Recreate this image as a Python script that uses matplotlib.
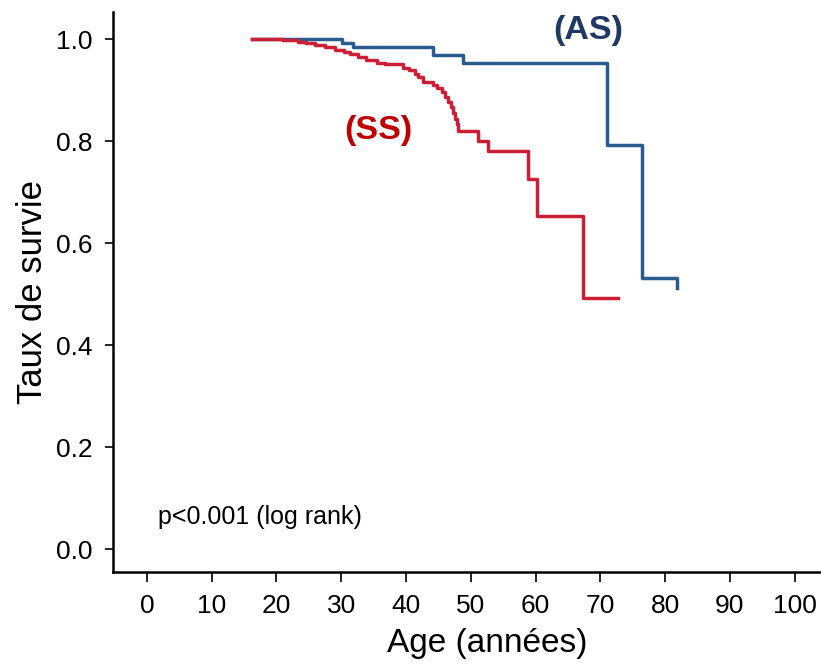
"""Kaplan-Meier style survival curves, AS vs SS."""
import matplotlib
matplotlib.use("Agg")
import matplotlib.pyplot as plt

BLUE = "#2a5b8f"
RED = "#cc1f36"
AS_TEXT = "#1f3864"
SS_TEXT = "#c00000"

# AS group: age at step, survival after step
as_age = [16.2, 30.1, 31.8, 44.1, 48.8, 71.1, 76.5, 81.8]
as_surv = [1.000, 0.993, 0.984, 0.969, 0.953, 0.792, 0.531, 0.512]

# SS group: age at step, survival after step (last point = end of follow-up)
ss_age = [16.2, 21.0, 23.3, 24.5, 25.9, 27.5, 29.0, 30.4, 31.3, 32.6, 33.8,
          35.5, 36.7, 39.5, 40.4, 41.4, 41.8, 42.6, 44.1, 44.8, 45.5, 46.0,
          46.5, 46.9, 47.2, 47.5, 47.8, 48.1, 51.1, 52.6, 58.8, 60.3, 67.3, 72.7]
ss_surv = [1.000, 0.998, 0.995, 0.992, 0.988, 0.984, 0.979, 0.975, 0.970, 0.965, 0.959,
           0.954, 0.951, 0.944, 0.939, 0.932, 0.925, 0.916, 0.910, 0.904, 0.896, 0.886,
           0.876, 0.867, 0.855, 0.843, 0.833, 0.820, 0.800, 0.780, 0.725, 0.653, 0.492, 0.492]

x_ticks = list(range(0, 101, 10))
y_ticks = [0.0, 0.2, 0.4, 0.6, 0.8, 1.0]

plt.rcParams["font.family"] = ["Liberation Sans", "DejaVu Sans"]

fig = plt.figure(figsize=(8.21, 6.71), dpi=100)
ax = fig.add_axes([0.1376, 0.1475, 0.861, 0.8345])

ax.step(as_age, as_surv, where="post", color=BLUE, linewidth=2.5)
ax.step(ss_age, ss_surv, where="post", color=RED, linewidth=2.5)

ax.text(68.1, 1.016, "(AS)", color=AS_TEXT, fontsize=24.5, fontweight="bold",
        ha="center", va="center")
ax.text(35.8, 0.820, "(SS)", color=SS_TEXT, fontsize=24.5, fontweight="bold",
        ha="center", va="center")
ax.text(1.7, 0.063, "p<0.001 (log rank)", fontsize=18, ha="left", va="center")

ax.set_xlim(-5.25, 103.9)
ax.set_ylim(-0.045, 1.053)
ax.set_xticks(x_ticks)
ax.set_yticks(y_ticks)
ax.set_yticklabels([f"{v:.1f}" for v in y_ticks])

for side in ["top", "right"]:
    ax.spines[side].set_visible(False)
for side in ["left", "bottom"]:
    ax.spines[side].set_linewidth(1.8)

ax.tick_params(axis="x", length=7, width=1.2, pad=9, labelsize=19)
ax.tick_params(axis="y", length=6, width=1.2, pad=9, labelsize=19)

ax.set_xlabel("Age (années)", fontsize=24)
ax.xaxis.set_label_coords(0.530, -0.10)
ax.set_ylabel("Taux de survie", fontsize=25, labelpad=5)

fig.savefig("out.png", dpi=100)
print("Saved out.png")
